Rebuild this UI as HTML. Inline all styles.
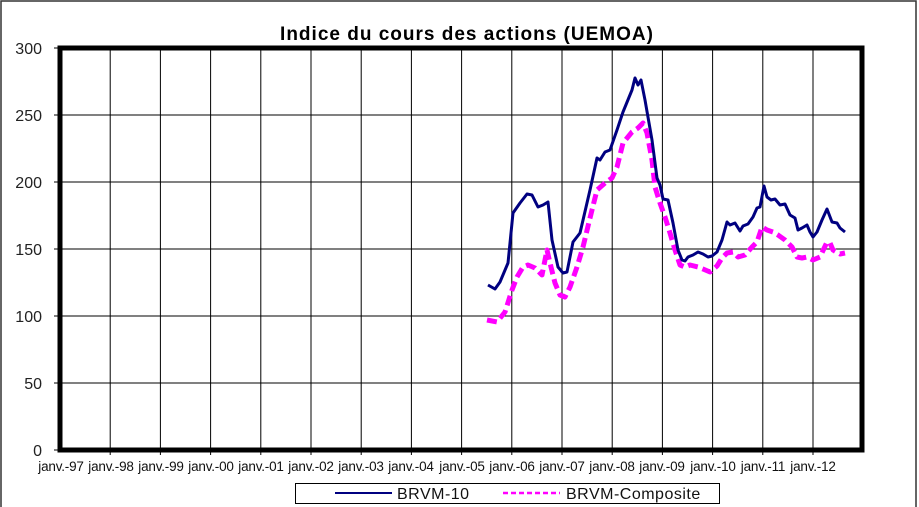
<!DOCTYPE html>
<html><head><meta charset="utf-8"><style>
body{margin:0;background:#fff;}
svg{display:block;font-family:"Liberation Sans",Arial,sans-serif;}
</style></head><body>
<svg width="919" height="507" viewBox="0 0 919 507" xmlns="http://www.w3.org/2000/svg">
<rect x="0" y="0" width="919" height="507" fill="#fff"/>
<rect x="1" y="1" width="915" height="510" fill="none" stroke="#333" stroke-width="1.5"/>
<text x="467" y="40" text-anchor="middle" font-size="19" font-weight="bold" letter-spacing="1">Indice du cours des actions  (UEMOA)</text>
<g stroke="#000" stroke-width="1">
<line x1="60" y1="115" x2="862" y2="115"/>
<line x1="60" y1="182" x2="862" y2="182"/>
<line x1="60" y1="249" x2="862" y2="249"/>
<line x1="60" y1="316" x2="862" y2="316"/>
<line x1="60" y1="383" x2="862" y2="383"/>
<line x1="110.2" y1="48" x2="110.2" y2="455"/><line x1="160.4" y1="48" x2="160.4" y2="455"/><line x1="210.6" y1="48" x2="210.6" y2="455"/><line x1="260.8" y1="48" x2="260.8" y2="455"/><line x1="311" y1="48" x2="311" y2="455"/><line x1="361.2" y1="48" x2="361.2" y2="455"/><line x1="411.4" y1="48" x2="411.4" y2="455"/><line x1="461.6" y1="48" x2="461.6" y2="455"/><line x1="511.8" y1="48" x2="511.8" y2="455"/><line x1="562" y1="48" x2="562" y2="455"/><line x1="612.2" y1="48" x2="612.2" y2="455"/><line x1="662.4" y1="48" x2="662.4" y2="455"/><line x1="712.6" y1="48" x2="712.6" y2="455"/><line x1="762.8" y1="48" x2="762.8" y2="455"/><line x1="813" y1="48" x2="813" y2="455"/>
<line x1="54" y1="48" x2="60" y2="48"/><line x1="54" y1="115" x2="60" y2="115"/><line x1="54" y1="182" x2="60" y2="182"/><line x1="54" y1="249" x2="60" y2="249"/><line x1="54" y1="316" x2="60" y2="316"/><line x1="54" y1="383" x2="60" y2="383"/><line x1="54" y1="450" x2="60" y2="450"/>
</g>
<rect x="60" y="48" width="802" height="402" fill="none" stroke="#000" stroke-width="5"/>
<g font-size="16" fill="#222" text-anchor="end">
<text x="42" y="54">300</text><text x="42" y="121">250</text><text x="42" y="188">200</text><text x="42" y="255">150</text><text x="42" y="322">100</text><text x="42" y="389">50</text><text x="42" y="456">0</text>
</g>
<g font-size="13.5" fill="#111" text-anchor="middle" letter-spacing="-0.2">
<text x="61" y="471">janv.-97</text><text x="111" y="471">janv.-98</text><text x="161" y="471">janv.-99</text><text x="211" y="471">janv.-00</text><text x="261" y="471">janv.-01</text><text x="311" y="471">janv.-02</text><text x="361" y="471">janv.-03</text><text x="411" y="471">janv.-04</text><text x="462" y="471">janv.-05</text><text x="512" y="471">janv.-06</text><text x="562" y="471">janv.-07</text><text x="612" y="471">janv.-08</text><text x="662" y="471">janv.-09</text><text x="713" y="471">janv.-10</text><text x="763" y="471">janv.-11</text><text x="813" y="471">janv.-12</text>
</g>
<polyline fill="none" stroke="#ff00ff" stroke-width="5" stroke-dasharray="10,5" stroke-linejoin="round" points="487,320 497,322 505,312 512,290 517,277 523,267 528,265 535,268 542,275 547,250 550,263 555,283 560,295 565,297 570,287 577,267 583,247 590,218 597,190 605,183 612,178 617,167 623,143 632,132 638,128 643,123 647,133 652,160 655,187 660,203 665,217 670,233 675,250 680,265 685,267 690,265 698,267 703,269 710,272 717,266 722,258 727,253 733,252 738,257 745,255 752,247 757,242 762,227 767,230 773,232 778,235 785,240 792,247 797,257 802,258 807,257 813,260 820,257 827,242 830,243 833,250 840,254 845,253"/>
<polyline fill="none" stroke="#000080" stroke-width="3" stroke-linejoin="round" points="488,285 495,289 500,282 508,263 513,213 520,203 527,194 532,195 538,207 543,205 548,202 552,240 558,267 563,273 567,272 573,242 580,233 590,190 597,158 600,160 605,152 610,150 617,130 623,112 632,90 635,78 638,85 641,80 645,100 652,140 657,178 660,185 663,199 668,200 673,223 678,250 682,260 685,261 688,257 693,255 698,252 703,254 708,257 712,256 717,252 722,240 727,222 730,225 735,223 740,231 743,226 748,224 753,217 757,208 760,207 764,186 767,197 771,200 775,199 780,205 785,204 790,215 795,218 798,230 802,228 807,225 810,232 813,237 817,232 822,220 827,209 832,222 837,223 840,228 845,232"/>
<rect x="295.5" y="483.5" width="424" height="20" fill="#fff" stroke="#000" stroke-width="1"/>
<line x1="335" y1="493" x2="392" y2="493" stroke="#000080" stroke-width="2"/>
<text x="397" y="499" font-size="16" fill="#111" letter-spacing="0.5">BRVM-10</text>
<line x1="503" y1="493" x2="560" y2="493" stroke="#ff00ff" stroke-width="2.5" stroke-dasharray="5,3"/>
<text x="566" y="499" font-size="16" fill="#111" letter-spacing="0.5">BRVM-Composite</text>
</svg>
</body></html>
